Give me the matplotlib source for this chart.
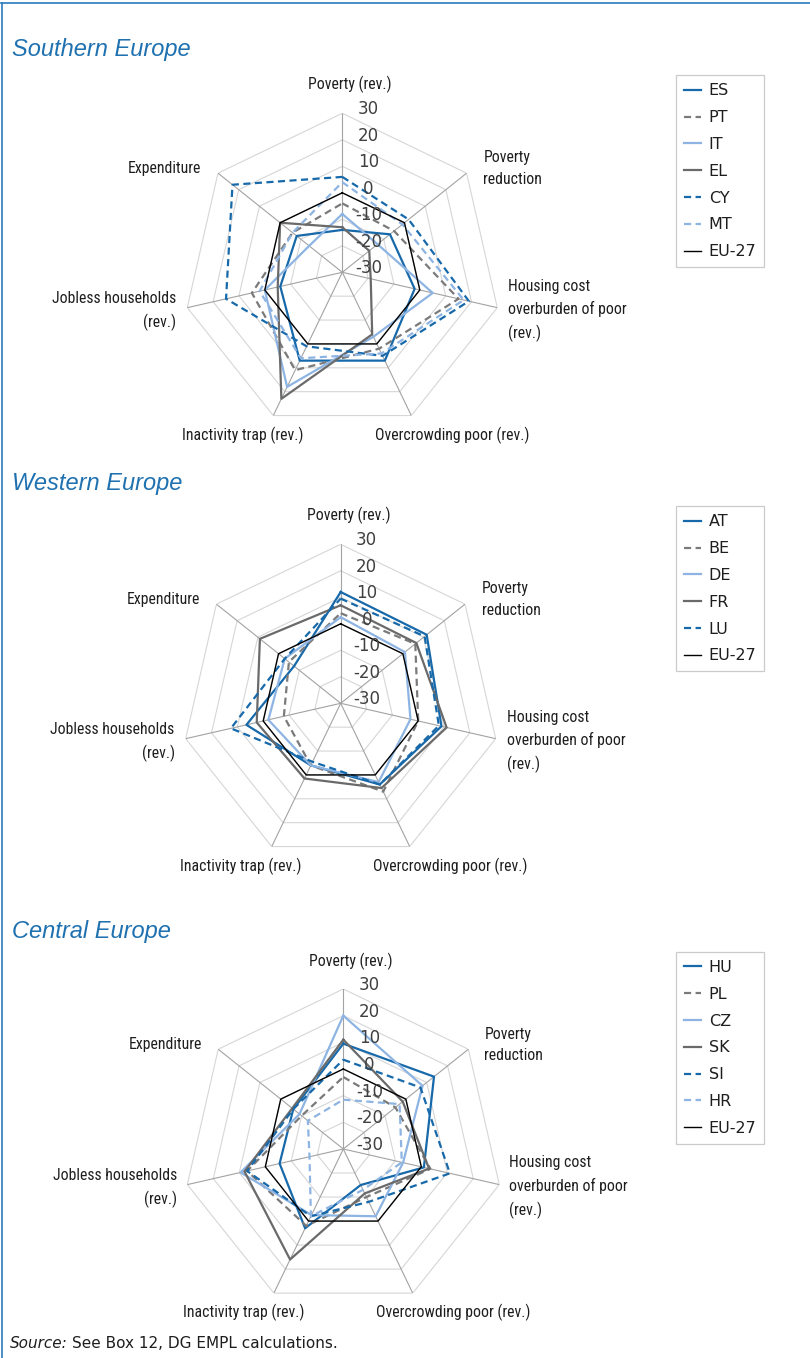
import matplotlib
matplotlib.use('Agg')
import matplotlib.pyplot as plt
from matplotlib.lines import Line2D
from matplotlib.transforms import offset_copy
import numpy as np

# axes of the radar (clockwise from the top)
axis_labels = ['Poverty (rev.)', 'Poverty\nreduction',
               'Housing cost\noverburden of poor\n(rev.)',
               'Overcrowding poor (rev.)', 'Inactivity trap (rev.)',
               'Jobless households\n(rev.)', 'Expenditure']
ring_ticks = [30, 20, 10, 0, -10, -20, -30]

# Southern Europe
south_names = ['ES', 'PT', 'IT', 'EL', 'CY', 'MT', 'EU-27']
es = [-14, -7, -2, 7, 7, -6, -8]
pt = [-4, -5, 15, 2, 11, 5, -6]
it = [-8, -13, 5, -3, 18, 0, -14]
el = [-13, -17, -19, -4, 23, -5, 0]
cy = [6, 2, 19, 5, 1, 15, 23]
mt = [4, -1, 17, 4, 6, 2, -6]
eu = [0, 0, 0, 0, 0, 0, 0]

# Western Europe
west_names = ['AT', 'BE', 'DE', 'FR', 'LU', 'EU-27']
at = [12, 11.5, 9, 4, -4, 6.5, -7.5]
be = [4, 6, 0, 7, -4, -8, -5]
de = [2.5, 1, -3, 3, -4, -2, -3]
fr = [7, 6.5, 11, 5.5, 1.5, 2.5, 9]
lu = [9.5, 10.5, 8, 4, -5.5, 12.5, -3]

# Central Europe
central_names = ['HU', 'PL', 'CZ', 'SK', 'SI', 'HR', 'EU-27']
hu = [9.5, 13.5, 1, -15, 3, -5.5, -6]
pl = [-3, -5, 3.5, -10, 2, 7, -10]
cz = [20, 8, -7, -2, -2.5, 9.5, -9]
sk = [11, -1.5, 3, -11.5, 16, 8, -5.5]
si = [3.5, 7, 11, -8, -2, 7, -6]
hr = [-11.5, -3, -7.5, -13, -2, -17, -13]

DARK = '#1769aa'
LIGHT = '#8db4e2'
GRAY = '#7a7a7a'
GRAY2 = '#6a6a6a'
styles = {
    'dark': dict(color=DARK, ls='-', lw=1.6),
    'gdash': dict(color=GRAY, ls=(0, (3.2, 2)), lw=1.6),
    'light': dict(color=LIGHT, ls='-', lw=1.6),
    'gray': dict(color=GRAY2, ls='-', lw=1.6),
    'ddash': dict(color=DARK, ls=(0, (3.2, 2)), lw=1.6),
    'ldash': dict(color=LIGHT, ls=(0, (3.2, 2)), lw=1.6),
    'eu': dict(color='black', ls='-', lw=1.0),
}

W, H = 810, 1358
fig = plt.figure(figsize=(W / 100, H / 100), dpi=100)
fig.patch.set_facecolor('white')

label_font = ['Roboto Condensed', 'Liberation Sans Narrow', 'Roboto', 'DejaVu Sans']
label_pos = [  # offset from centre in pixels (dx, dy downwards), ha
    (8, -188, 'center'), (141, -104, 'left'), (166, 38, 'left'),
    (110, 163, 'center'), (-100, 163, 'center'), (-166, 39, 'right'),
    (-141, -104, 'right')]

angles = np.linspace(0, 2 * np.pi, 7, endpoint=False)
closed = np.append(angles, angles[0])


def radar(cx, cy_, rad, names, data, kinds, title, title_y):
    ax = fig.add_axes([(cx - rad) / W, 1 - (cy_ + rad) / H, 2 * rad / W, 2 * rad / H],
                      projection='polar')
    ax.set_theta_zero_location('N')
    ax.set_theta_direction(-1)
    ax.set_ylim(-30, 30)
    ax.axis('off')
    for v in [-20, -10, 0, 10, 20, 30]:
        ax.plot(closed, [v] * 8, color='#d6d6d6', lw=0.8, zorder=1)
    for a in angles:
        ax.plot([a, a], [-30, 30], color='#a3a3a3', lw=0.8, zorder=1)
    handles = []
    for name, vals, kind in zip(names, data, kinds):
        ln, = ax.plot(closed, list(vals) + [vals[0]], zorder=3, **styles[kind])
        ln.set_dash_capstyle('butt')
        handles.append(ln)
    for v in ring_ticks:
        ax.text(0, v, str(v), transform=offset_copy(ax.transData, fig=fig, x=26, y=4, units='dots'),
                ha='center', va='center', fontsize=12, color='#404040', zorder=5)
    for lab, (dx, dy, ha) in zip(axis_labels, label_pos):
        ax.text(0, -30, lab, transform=offset_copy(ax.transData, fig=fig, x=dx, y=-dy, units='dots'),
                ha=ha, va='center', fontsize=11.3, family=label_font, color='#1e1e1e',
                linespacing=1.57)
    leg = ax.legend(handles, names, loc='upper left',
                    bbox_to_anchor=(676 / W, 1 - (cy_ - 197) / H), bbox_transform=fig.transFigure,
                    frameon=True, fancybox=False, edgecolor='#bfbfbf', fontsize=11.5,
                    handlelength=1.05, handletextpad=0.5, labelspacing=0.74,
                    borderpad=0.5, borderaxespad=0)
    leg.get_frame().set_linewidth(0.9)
    for t in leg.get_texts():
        t.set_color('#1e1e1e')
    fig.text(12 / W, 1 - title_y / H, title, fontsize=17, style='italic',
             family=['Liberation Sans', 'DejaVu Sans'], color='#1f71b0', va='baseline')


radar(342.3, 272.3, 159, south_names, [es, pt, it, el, cy, mt, eu],
      ['dark', 'gdash', 'light', 'gray', 'ddash', 'ldash', 'eu'], 'Southern Europe', 56)
radar(340.7, 703.3, 159, west_names, [at, be, de, fr, lu, eu],
      ['dark', 'gdash', 'light', 'gray', 'ddash', 'eu'], 'Western Europe', 490)
radar(343.3, 1149, 160, central_names, [hu, pl, cz, sk, si, hr, eu],
      ['dark', 'gdash', 'light', 'gray', 'ddash', 'ldash', 'eu'], 'Central Europe', 938)

# source line
src = fig.text(10 / W, 1 - 1348 / H, 'Source:', fontsize=11, style='italic', color='#1e1e1e',
               va='baseline')
fig.canvas.draw()
bb = src.get_window_extent()
fig.text(bb.x1 / W + 4 / W, 1 - 1348 / H, 'See Box 12, DG EMPL calculations.', fontsize=11,
         color='#1e1e1e', va='baseline')

# blue frame lines
fig.add_artist(Line2D([0.5 / W, 1], [1 - 3 / H, 1 - 3 / H], transform=fig.transFigure,
                      color='#2a7bbd', lw=1.2))
fig.add_artist(Line2D([2 / W, 2 / W], [0, 1 - 3 / H], transform=fig.transFigure,
                      color='#2a7bbd', lw=1.2))

fig.savefig('out.png', dpi=100, facecolor='white')
